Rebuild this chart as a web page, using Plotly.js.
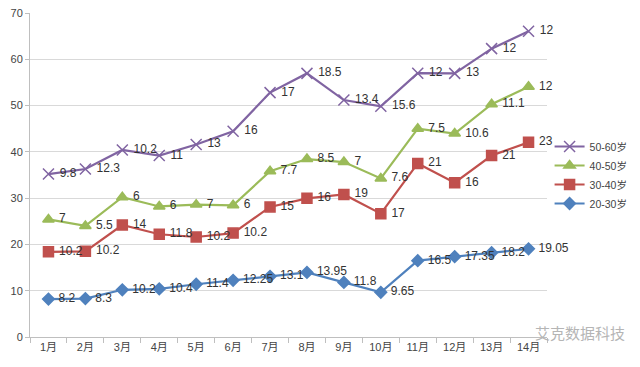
<!DOCTYPE html>
<html><head><meta charset="utf-8">
<script src="https://cdn.plot.ly/plotly-3.0.1.min.js"></script>
<style>body{margin:0;background:#fff}#c{width:640px;height:367px}</style>
</head><body><div id="c"></div>
<script>
const months = ['1月','2月','3月','4月','5月','6月','7月','8月','9月','10月','11月','12月','13月','14月'];
const s2030 = [8.2, 8.3, 10.2, 10.4, 11.4, 12.25, 13.1, 13.95, 11.8, 9.65, 16.5, 17.35, 18.2, 19.05];
const s3040 = [10.2, 10.2, 14, 11.8, 10.2, 10.2, 15, 16, 19, 17, 21, 16, 21, 23];
const s4050 = [7, 5.5, 6, 6, 7, 6, 7.7, 8.5, 7, 7.6, 7.5, 10.6, 11.1, 12];
const s5060 = [9.8, 12.3, 10.2, 11, 13, 16, 17, 18.5, 13.4, 15.6, 12, 13, 12, 12];
const names = ['20-30岁','30-40岁','40-50岁','50-60岁'];
const series = [s2030, s3040, s4050, s5060];
const colors = ['#4F81BD','#C0504D','#9BBB59','#8064A2'];
const symbols = ['diamond','square','triangle-up','x-thin-open'];
const sizes = [9, 10, 10, 11];

let cum = months.map(() => 0);
const traces = series.map((s, i) => {
  cum = cum.map((c, j) => c + s[j]);
  return {
    x: months, y: cum.slice(), name: names[i], type: 'scatter',
    mode: 'lines+markers+text',
    text: s.map(v => ' ' + v), textposition: 'middle right',
    textfont: {size: 12, color: '#333'},
    line: {color: colors[i], width: 2.2},
    marker: {symbol: symbols[i], size: sizes[i], color: colors[i], line: {color: colors[i], width: 1.5}},
    cliponaxis: false
  };
});

const layout = {
  width: 640, height: 367,
  margin: {l: 30, r: 93, t: 13, b: 30, autoexpand: false},
  paper_bgcolor: '#fff', plot_bgcolor: '#fff',
  font: {family: 'Liberation Sans, Noto Sans CJK SC, sans-serif', size: 11, color: '#444'},
  showlegend: true,
  legend: {x: 1.005, y: 0.5, yanchor: 'middle', xanchor: 'left', traceorder: 'reversed',
           font: {size: 10.5, color: '#444'}, itemwidth: 30, bgcolor: 'rgba(0,0,0,0)'},
  xaxis: {type: 'category', range: [-0.5, 13.5], showgrid: false, showline: true,
          linecolor: '#bfbfbf', linewidth: 1, ticks: 'outside', tickson: 'boundaries',
          ticklen: 5, tickcolor: '#bfbfbf', tickfont: {size: 11, color: '#444'}, zeroline: false},
  yaxis: {range: [0, 70], dtick: 10, showgrid: true, gridcolor: '#d9d9d9', gridwidth: 1,
          showline: true, linecolor: '#bfbfbf', ticks: 'outside', ticklen: 4, tickcolor: '#bfbfbf',
          zeroline: false, tickfont: {size: 11, color: '#444'}},
  annotations: [{xref: 'paper', yref: 'paper', x: 1.064, y: 0.012, xanchor: 'center', yanchor: 'middle',
                 text: '艾克数据科技', showarrow: false, font: {size: 15, color: '#b5b5b5'}}]
};
Plotly.newPlot('c', traces, layout, {displayModeBar: false, staticPlot: true});
</script></body></html>
